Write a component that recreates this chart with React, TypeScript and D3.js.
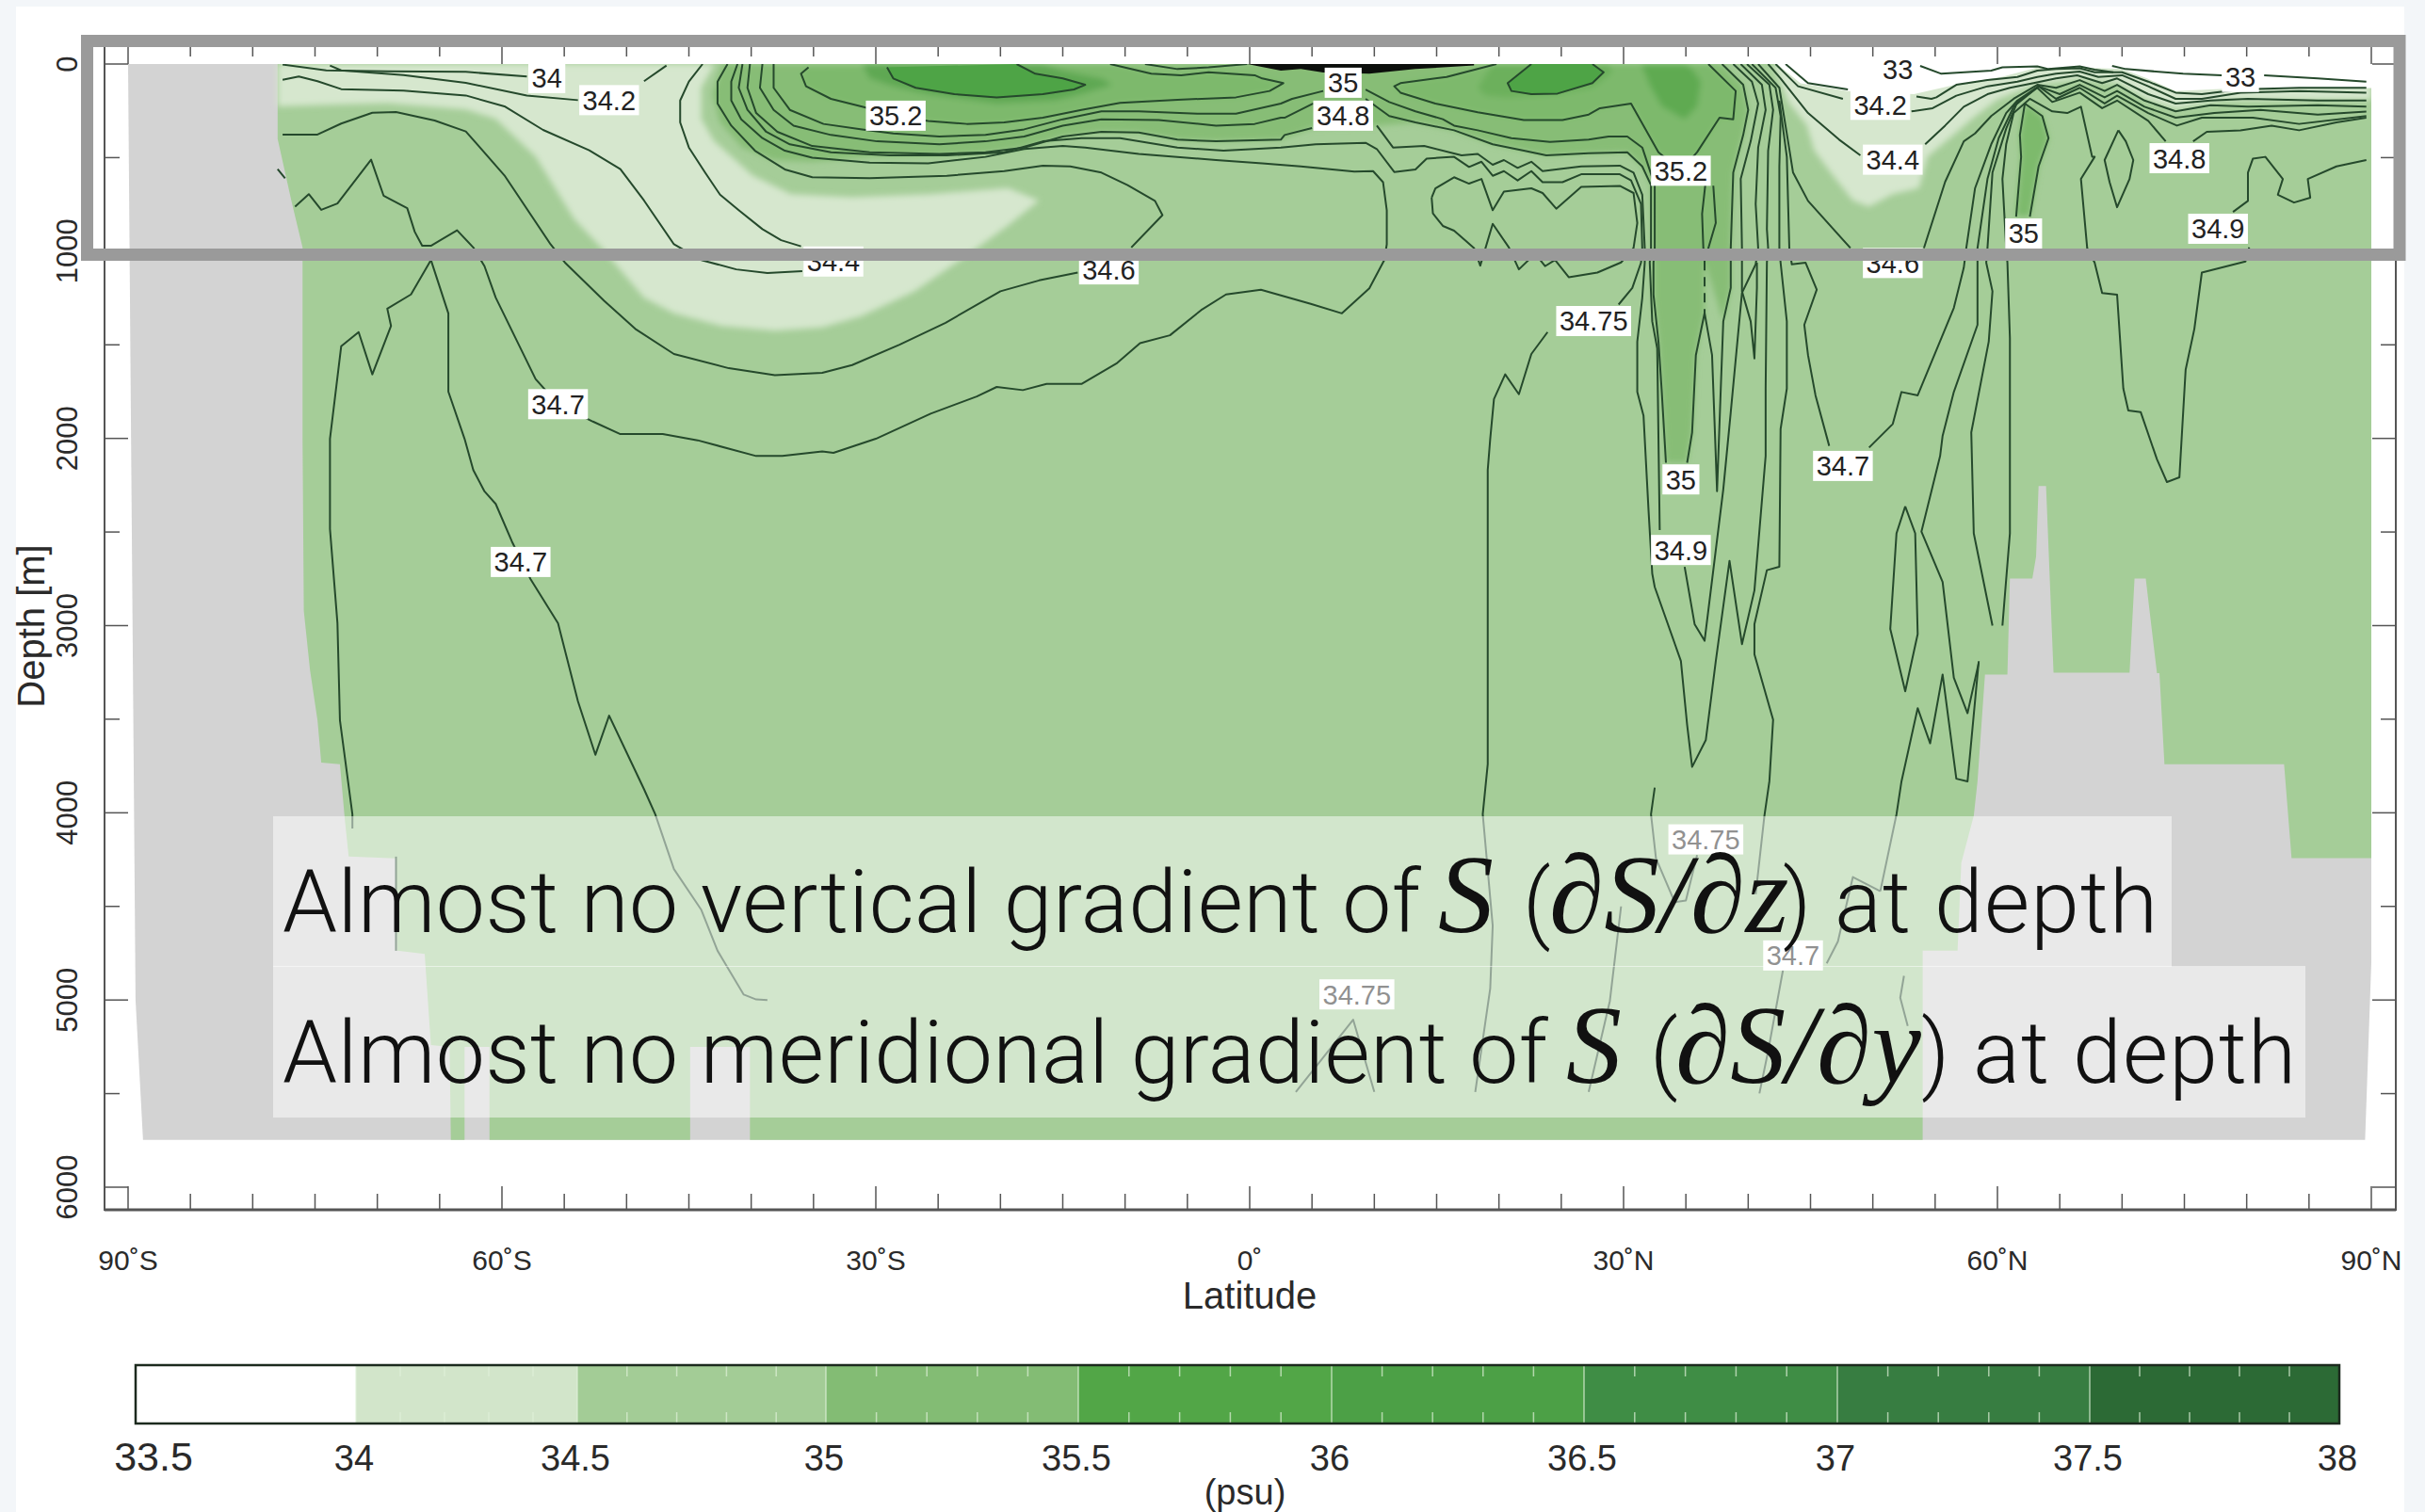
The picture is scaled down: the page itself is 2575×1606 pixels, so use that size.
import React from "react";
import * as d3 from "d3";

type P = [number, number];

// ---- axis ticks and labels ----
const latMinorTicks = d3.range(-90, 91, 5);
const latMajorTicks = [-90, -60, -30, 0, 30, 60, 90];
const latTickLabels = ["90˚S", "60˚S", "30˚S", "0˚", "30˚N", "60˚N", "90˚N"];
const depthMinorTicks = d3.range(0, 6001, 500);
const depthMajorTicks = [0, 1000, 2000, 3000, 4000, 5000, 6000];

// ---- colour bar ----
const cbBreaks = [33.5, 34, 34.5, 35, 35.5, 36, 36.5, 37, 37.5, 38];
const cbColors = ["#ffffff", "#d2e5ca", "#a3cc96", "#83bc74", "#52a647", "#4ca046", "#3f8d45", "#377d41", "#2c6a35"];
const cbLabels = ["33.5", "34", "34.5", "35", "35.5", "36", "36.5", "37", "37.5", "38"];

// ---- filled regions: [latitude, depth] ----
const landOutline: P[] = [[-90, 0], [90, 0], [90, 4800], [89.5, 5747], [-88.8, 5747], [-89.4, 5000]];
const oceanOutline: P[] = [[-78, 0], [-78, 400], [-76.9, 729], [-76, 980], [-76, 2000], [-75.9, 2921], [-75.4, 3238], [-74.8, 3506], [-74.5, 3732], [-73, 3740], [-72.6, 4041], [-72.3, 4234], [-68.5, 4243], [-68.4, 4737], [-66.2, 4754], [-65.7, 5240], [-64.2, 5250], [-64.1, 5747], [-63, 5747], [-63, 5250], [-61, 5250], [-61, 5747], [-44.9, 5747], [-44.9, 5250], [-40.1, 5250], [-40.1, 5747], [54, 5747], [54, 4737], [56.8, 4737], [57.1, 4268], [58.1, 4016], [58.4, 3832], [59, 3261], [60.8, 3261], [61, 2749], [62.8, 2749], [63.1, 2632], [63.3, 2255], [63.9, 2255], [64.5, 3252], [70.6, 3252], [71, 2749], [71.9, 2749], [72.8, 3254], [73, 3254], [73.4, 3740], [83, 3740], [83.6, 4242], [90, 4242], [90, 0]];
const freshWedgeSouth: P[] = [[-78, 0], [-78, 226], [-74.1, 218], [-69.2, 209], [-62.9, 243], [-60.5, 293], [-57.3, 494], [-54.2, 829], [-51.8, 997], [-48.6, 1248], [-46.2, 1332], [-42.4, 1399], [-38.1, 1424], [-34.3, 1407], [-31.2, 1348], [-26.9, 1214], [-22.5, 1013], [-19.4, 863], [-16.9, 729], [-19.4, 662], [-25.6, 695], [-31.9, 712], [-36.8, 695], [-39.9, 595], [-43, 410], [-44, 293], [-44, 126], [-43, 8], [-43, 0]];
const freshWedgeNorth: P[] = [[42, 0], [43.2, 200], [44.7, 327], [45.3, 461], [46.6, 578], [48.4, 729], [49.7, 762], [51.6, 695], [53.7, 662], [54.4, 494], [56.5, 377], [58, 290], [60, 190], [63, 110], [66.6, 80], [69.6, 100], [72, 190], [74.3, 240], [78, 195], [90, 190], [90, 0]];
const freshSurfaceNorth: P[] = [[42.3, 0], [44.2, 103], [48, 145], [53.3, 161], [56.7, 110], [60.4, 68], [63.2, 19], [64.7, 27], [66.6, 19], [70, 27], [72, 77], [74.3, 145], [79.5, 128], [89.6, 128], [90, 128], [90, 0]];
const salineBand: P[] = [[-42.3, 0], [-43.1, 161], [-42.5, 312], [-40.7, 446], [-38.2, 513], [-35.1, 522], [-30.5, 496], [-24.9, 488], [-21.2, 476], [-18.1, 446], [-15, 387], [-11.9, 362], [-8.9, 366], [-5.8, 404], [-2.7, 413], [2.5, 404], [5, 342], [10.2, 329], [13.3, 312], [16.4, 354], [19.5, 429], [22, 463], [23.8, 488], [27.2, 476], [30.3, 471], [31.5, 547], [32.2, 647], [32.4, 1061], [32.4, 1232], [32.8, 1483], [33.05, 1734], [33.4, 2130], [35.1, 2130], [35.5, 1968], [35.8, 1555], [36.5, 1330], [36.5, 1052], [38, 1375], [38.6, 1196], [38.6, 983], [38.8, 580], [39.6, 379], [40, 245], [39.6, 111], [37.9, 0]];
const haloSouth: P[] = [[-31.1, 0], [-30.5, 77], [-28.6, 119], [-25.8, 161], [-20.3, 211], [-15.6, 195], [-13.5, 161], [-11, 111], [-11.9, 77], [-15, 35], [-16.6, 0]];
const haloNorth: P[] = [[19.5, 0], [18.3, 127], [18.9, 169], [20.7, 178], [24.7, 161], [27.5, 127], [29.1, 44], [28.8, 0]];
const medOutflowCore: P[] = [[31.4, 0], [32.2, 127], [33.1, 228], [34.9, 295], [35.9, 228], [36.2, 94], [35.5, 27], [34.9, 0]];
const surfaceBlack: P[] = [[-0.2, 0], [2.5, 35], [4.1, 27], [5.9, 45], [9.6, 52], [13.3, 27], [18, 8], [18, 0]];

// ---- contour lines: [latitude, depth] ----
const c34A: P[] = [[-77.6, 3], [-74.1, 34], [-69.2, 39], [-62.9, 42], [-58, 67]];
const c342A: P[] = [[-73.8, 8], [-72.9, 34], [-67.9, 59], [-62.9, 101], [-58, 168], [-53.9, 193]];
const c342B: P[] = [[-48.6, 92], [-46.8, 8]];
const c344A: P[] = [[-43.9, 0], [-45, 94], [-45.7, 195], [-45.7, 312], [-45, 446], [-43.7, 580], [-42.5, 698], [-41, 781], [-39.1, 882], [-37.6, 941], [-36, 974]];
const c344B: P[] = [[-77.6, 84], [-76.3, 67], [-74.8, 92], [-72.9, 134], [-67.9, 142], [-62.9, 168], [-59.8, 226], [-56.7, 352], [-53, 461], [-50.5, 561], [-48.6, 729], [-46.2, 963], [-44, 1047], [-41.2, 1097], [-38.7, 1117], [-35.9, 1107]];
const c346A: P[] = [[-77.6, 377], [-74.8, 377], [-72.9, 318], [-70.4, 260], [-68.5, 256], [-65.4, 302], [-62.9, 360], [-59.8, 595], [-56.1, 963], [-54.9, 1064], [-51.8, 1265], [-49.3, 1415], [-46.2, 1549], [-41.8, 1625], [-38.1, 1662], [-34.3, 1650], [-31.9, 1608], [-28.1, 1499], [-24.4, 1382], [-20, 1214], [-16.9, 1156], [-13.8, 1114]];
const c346B: P[] = [[-9.5, 980], [-7, 807], [-7.6, 731], [-9.8, 647], [-11.9, 580], [-14.4, 547], [-16.6, 543], [-19.7, 572], [-24.3, 597], [-30.5, 610], [-35.1, 605], [-37.3, 563], [-39.7, 463], [-41.6, 329], [-42.7, 211], [-42.7, 94], [-41.9, 0]];
const c347Stub: P[] = [[-78, 561], [-77.4, 611]];
const c347A: P[] = [[-76.6, 762], [-75.5, 695], [-74.5, 779], [-73.2, 745], [-70.5, 511], [-69.5, 703], [-67.6, 770], [-67, 896], [-66.4, 971], [-65.7, 971], [-63.6, 888], [-62.3, 980], [-61.4, 1080], [-60.5, 1248], [-57.3, 1683], [-55.5, 1817], [-52.7, 1910], [-50.5, 1977], [-47.1, 1977], [-44.3, 2010], [-39.6, 2094], [-37.5, 2094], [-34.3, 2069], [-33.4, 2077], [-30, 2002], [-25.6, 1868], [-21.9, 1776], [-20.3, 1725], [-18.2, 1742], [-16.3, 1709], [-13.5, 1709], [-10.7, 1600], [-8.8, 1491], [-6.4, 1449], [-3.9, 1315], [-1.9, 1231], [0.9, 1206], [4.9, 1281], [7.4, 1332], [9.6, 1198], [10.8, 1047], [11, 963], [11, 781], [10.7, 631], [9.9, 572], [8.4, 575], [4.1, 547], [1, 530], [-2.7, 513], [-8.9, 480], [-13.2, 446], [-15, 438], [-18.1, 454], [-21.2, 496], [-25.8, 530], [-30.5, 527], [-35.1, 500], [-37.3, 463], [-39.1, 396], [-40.8, 295], [-41.6, 195], [-41.6, 94], [-41.1, 0]];
const c347DeepW: P[] = [[-65.7, 1047], [-64.3, 1332], [-64.3, 1750], [-63, 2002], [-62.3, 2169], [-61.4, 2283], [-60.5, 2350], [-59.2, 2551], [-57.7, 2752], [-55.5, 2987], [-53.9, 3405], [-52.5, 3690], [-51.4, 3481], [-48.6, 3874], [-47.7, 4008], [-46.2, 4301], [-44, 4519], [-42.7, 4737], [-40.6, 4971], [-39.6, 4997], [-38.7, 5000]];
const c347DeepW2: P[] = [[-65.7, 1047], [-67.3, 1231], [-69.2, 1307], [-68.9, 1399], [-70.4, 1658], [-71.5, 1432], [-72.9, 1508], [-73.8, 2002], [-73.8, 2484], [-73.2, 2987], [-73, 3506], [-72, 4008], [-72, 4084]];
const c347DeepW3: P[] = [[-68.5, 4234], [-68.5, 4737]];
const c3475: P[] = [[-40.7, 0], [-41, 127], [-40.3, 245], [-38.8, 362], [-36.9, 429], [-33.6, 471], [-28.9, 488], [-24.3, 488], [-19.7, 471], [-16.6, 413], [-13.5, 396], [-10.4, 396], [-5.8, 446], [-2.1, 463], [2.5, 446], [5.3, 429], [9.3, 421], [10.2, 454], [11.6, 577], [13.3, 563], [14.2, 505], [16.4, 496], [17.6, 550], [18.6, 522], [19.5, 597], [20.4, 572], [21.5, 622], [22.6, 572], [23.5, 631], [25.1, 631], [26.6, 589], [29.7, 589], [30.6, 622], [31.4, 748], [31.5, 983], [31.4, 1061], [30.7, 1196], [29.6, 1285]];
const c3475Deep: P[] = [[23.9, 1432], [22.6, 1549], [21.6, 1764], [20.5, 1658], [19.6, 1790], [19.3, 2002], [19.1, 2169], [19.1, 3740], [18.7, 4008], [19.5, 4603], [19.3, 4938], [18.1, 5491]];
const c348: P[] = [[-40.1, 0], [-40.3, 127], [-39.6, 262], [-37.9, 362], [-35.1, 438], [-30.5, 471], [-24.9, 480], [-21.2, 471], [-18.1, 446], [-15, 387], [-11.9, 362], [-8.9, 366], [-5.8, 404], [-2.7, 413], [2.5, 404], [2.8, 379], [5, 342]];
const c348Deep: P[] = [[10.2, 329], [11.5, 446], [14, 438], [17, 488], [18.3, 480], [19.5, 538], [20.4, 513], [21.5, 555], [22.6, 522], [23.5, 572], [26.6, 547], [29.7, 543], [30.8, 580], [31.5, 698], [31.7, 983], [31.7, 1061], [31.5, 1249], [31.1, 1483], [31.1, 1752], [31.6, 1878], [32, 2381], [32.3, 2722], [32.5, 2794], [34.6, 3189], [35.1, 3530], [35.5, 3755], [36.6, 3611], [37.4, 3189], [38.5, 2654], [39.5, 3099], [40.5, 2812], [41.4, 2094], [41.4, 1734], [41.5, 1061], [41.6, 983], [41.5, 882], [41.6, 463], [42, 245], [41.7, 111], [39.9, 0]];
const c349: P[] = [[-39.1, 0], [-39.3, 127], [-38.2, 245], [-36.6, 329], [-33.6, 379], [-29.9, 413], [-24.9, 429], [-21.2, 413], [-18.1, 387], [-15, 329], [-11.9, 295], [-7.3, 299], [-2.7, 329], [0.4, 320], [2.5, 287], [2.8, 287], [5.1, 211]];
const c349Deep: P[] = [[9.3, 186], [11.2, 278], [13.3, 312], [16.4, 354], [19.5, 429], [22, 463], [23.8, 488], [27.2, 476], [30.3, 471], [31.5, 547], [32.2, 647], [32.2, 983], [32.1, 1061], [32.3, 1375], [32.7, 1519], [32.9, 2489]];
const c349Tail: P[] = [[34.9, 2686], [35.7, 2992], [36.5, 3081], [38, 2273], [38.6, 1860], [39.5, 1223], [40.6, 1070], [40.8, 983], [40.6, 748], [40.8, 446], [41.4, 245], [41.1, 111], [39.4, 0]];
const c35: P[] = [[-38.2, 0], [-38.2, 127], [-36.9, 245], [-34.2, 320], [-31.1, 349], [-28.6, 371], [-24.9, 387], [-21.2, 379], [-18.1, 349], [-15, 295], [-11.9, 253], [-8.9, 253], [-4.2, 265], [-1.1, 265], [2.5, 211], [3.4, 186], [5.9, 144]];
const c35Deep: P[] = [[9.3, 136], [11.2, 203], [13.3, 253], [15.5, 295], [16.4, 329], [18.3, 354], [21, 396], [24.1, 416], [27.2, 404], [28.8, 387], [30.3, 387], [31.5, 446], [32.5, 647], [32.5, 983], [32.4, 1061], [32.4, 1232], [32.8, 1483], [33.05, 1734], [33.4, 2130]];
const c35Tail: P[] = [[35.1, 2130], [35.5, 1968], [35.8, 1555], [36.5, 1330], [37.1, 1555], [37.3, 1914], [37.5, 2282], [37.8, 1734], [38, 1375], [38.6, 1196], [38.6, 1061], [38.6, 983], [38.8, 580], [39.6, 379], [40, 245], [39.6, 111], [37.9, 0]];
const c352South: P[] = [[-35.4, 18], [-36, 52], [-35.6, 119], [-33.6, 186], [-31.1, 228], [-28.4, 276], [-25.8, 304], [-22.7, 320], [-19.7, 312], [-16.6, 287], [-13.5, 245], [-10.4, 208], [-5.8, 191], [-1.1, 178], [1.6, 144], [2.7, 102], [1, 77], [0.4, 60], [-3.3, 44], [-5.5, 60], [-7.9, 52], [-11.2, 0]];
const c352North: P[] = [[19.8, 0], [15.8, 69], [12.1, 102], [11.6, 119], [12.1, 153], [14.9, 211], [18.3, 258], [22, 299], [25.1, 299], [27.2, 270], [28.1, 236], [30.6, 211], [32.8, 471], [34.6, 570], [35.9, 471], [37.7, 287], [38.8, 295], [39, 144], [36.8, 0]];
const c354South: P[] = [[-29.1, 18], [-28.6, 77], [-26.8, 127], [-23.7, 161], [-20.3, 178], [-16.6, 161], [-14.1, 136], [-13.2, 111], [-15, 77], [-17.2, 52], [-18.7, 0]];
const c354North: P[] = [[22.6, 0], [20.7, 102], [21, 144], [22.6, 161], [24.7, 158], [27.5, 102], [28.4, 44], [27.5, 0]];
const cSurfaceThin: P[] = [[-8.4, 0], [-5.8, 27], [-3.3, 18], [-0.2, 0]];
const c3475Loop: P[] = [[14.6, 714], [14.9, 664], [16.4, 605], [17.6, 639], [18.6, 614], [19.5, 781], [20.4, 681], [22.6, 664], [23.5, 689], [24.6, 773], [26.6, 656], [29.7, 651], [30.8, 689], [31.1, 849], [30.8, 983], [29.8, 1060], [27.9, 1114], [25.6, 1139], [24.5, 1047], [23.7, 1080], [22.9, 1013], [21.6, 1097], [20.8, 980], [19.5, 854], [18.5, 1077], [18, 983], [16.4, 890], [15.5, 865], [14.7, 798], [14.6, 714]];
const cLens: P[] = [[36.6, 620], [36.3, 800], [36.4, 983], [36.5, 1052], [37.4, 849], [37.2, 650]];
const cMedAxis: P[] = [[36.5, 1052], [36.5, 1330]];
const cSliver: P[] = [[38.8, 0], [40.3, 94], [40.8, 211], [40.2, 413], [39.4, 614], [39.5, 983], [39.5, 1214], [40.2, 1375], [40.5, 1573], [40.7, 1196], [40.7, 1061]];
const cOutflowEast: P[] = [[40.3, 0], [42.2, 127], [42.6, 278], [42.5, 547], [42.5, 983], [42.6, 1061], [43.1, 1375], [43.1, 1734], [42.6, 1950], [42.5, 2686], [41.5, 2704], [40.5, 2992], [40.5, 3153], [42, 3503], [41.7, 3832], [41.3, 4017], [40.6, 4435]];
const cOutflowEast2: P[] = [[42.8, 4837], [41.6, 5273], [40.9, 5499]];
const c347North: P[] = [[42.5, 195], [43.1, 496], [43.3, 983], [43.5, 1070], [44.6, 1061], [45.5, 1205], [44.5, 1393], [44.8, 1555], [45.4, 1770], [46.5, 2040]];
const c347NorthB: P[] = [[49.7, 2049], [51.6, 1923], [52.3, 1752], [53.6, 1770], [56.5, 1303], [57.3, 1088], [57.5, 983], [58.2, 664], [59.5, 429], [60.7, 262], [61.6, 195], [63.3, 119], [65, 161], [66.6, 111], [68.6, 178], [69.6, 144], [71.8, 228], [74.3, 287], [77.4, 262], [81.1, 245], [85.7, 270], [89.6, 254]];
const c347Zig: P[] = [[50.6, 4419], [51.9, 4008], [52.3, 3832], [53.6, 3441], [54.6, 3629], [55.6, 3261], [56.7, 3818], [57.6, 3832], [58.5, 3190]];
const c347Zig2: P[] = [[46.3, 4804], [47.2, 4687], [48.4, 4343], [50.6, 4419]];
const c33A: P[] = [[53.8, 10], [55.5, 52], [59.5, 35], [60.4, 18], [63.2, 13], [64.1, 27], [66.6, 13], [67.8, 30], [69.3, 44]];
const c33B: P[] = [[69.2, 10], [70.3, 27], [74.9, 52], [78, 60]];
const c33C: P[] = [[81.4, 60], [85.7, 77], [89.6, 94]];
const cT1West: P[] = [[43, 0], [44.8, 102], [48, 136]];
const cT1East: P[] = [[53.5, 174], [54.7, 186], [55.1, 178], [56.7, 111], [59.2, 86], [61.6, 69], [63.2, 35], [64.7, 27], [66.6, 23], [67.8, 44], [70, 44], [72.1, 94], [74.3, 153], [76.4, 161], [79.5, 136], [84.2, 127], [89.6, 127]];
const cT2West: P[] = [[42.2, 0], [44, 119], [47.6, 186]];
const cT2East: P[] = [[53.1, 253], [54.8, 236], [56.7, 169], [59.2, 119], [61.6, 94], [63.2, 69], [64.7, 52], [66.6, 40], [68.1, 69], [70, 60], [72.1, 119], [74.3, 186], [76.4, 186], [79.5, 153], [84.2, 144], [89.6, 153]];
const cT3West: P[] = [[41.6, 0], [42.6, 77], [44.8, 262], [47.3, 404], [49, 488]];
const cT3East: P[] = [[54.2, 429], [55.8, 329], [57.3, 228], [59.2, 161], [61, 127], [62.9, 102], [64.7, 77], [66.4, 60], [68.4, 102], [69.6, 77], [72.1, 161], [74.3, 211], [77.1, 195], [80.1, 186], [85.7, 195], [89.6, 195]];
const cT4West: P[] = [[40.8, 0], [42.5, 127], [43.2, 413], [43.6, 580], [44.8, 731], [48.2, 983]];
const cT4East: P[] = [[54.1, 983], [55.8, 630], [57.3, 413], [58.2, 371], [59.5, 278], [61.3, 186], [63.2, 111], [64.7, 127], [66.6, 86], [68.6, 144], [69.6, 111], [71.8, 195], [74.3, 253], [77.1, 220], [80.1, 228], [85.7, 220], [89.6, 228]];
const cT6: P[] = [[58.5, 3198], [57.6, 3468], [56.5, 3279], [55.6, 2767], [53.9, 2498], [55.4, 2094], [55.6, 1986], [56.5, 1752], [58.4, 1393], [58.4, 1061], [58.4, 983], [59.2, 614], [60.1, 396], [61.3, 228], [63.3, 119], [64.7, 186], [66.6, 127], [68.6, 211], [69.6, 169], [72.1, 262], [74.4, 329], [76.4, 287], [80.5, 287], [84.2, 320], [89.6, 278]];
const cT7West: P[] = [[59.6, 3000], [58.1, 2507], [57.9, 1968], [59.3, 1483], [59.6, 1214], [59.1, 1061], [59.2, 983], [59.6, 580], [60.7, 345], [61.6, 203], [63.2, 127], [64.4, 203], [66.6, 153], [68.4, 236], [69.6, 195], [72.1, 304], [73.5, 413]];
const cT7East: P[] = [[75.7, 413], [76.8, 362], [79.5, 354], [82, 329], [84.2, 354], [87.2, 312], [89.6, 287]];
const cT8West: P[] = [[60.4, 3000], [61, 2507], [61, 1465], [60.8, 1061], [60.7, 983], [60.4, 614], [60.7, 429], [61.3, 262], [62.6, 186], [64.4, 253], [65.6, 262], [66.7, 228], [67.6, 496], [67.8, 496], [66.7, 614], [67.2, 983], [67.8, 1061], [68.4, 1223], [69.6, 1232], [70.1, 1734], [70.5, 1851], [71.5, 1860], [72.8, 2112], [73.6, 2233], [74.6, 2208], [75.1, 1633], [75.8, 1415], [76.4, 1114], [79.9, 1055], [80.2, 980]];
const c349North: P[] = [[78.9, 790], [80.1, 731], [80.1, 580], [80.5, 505], [81.5, 496], [82.9, 614], [82.5, 698], [83.8, 740], [85.1, 714], [84.9, 614], [87.2, 547], [89.6, 513]];
const cTongue60N: P[] = [[61.5, 815], [61.9, 496], [61.8, 379], [62.2, 211], [63.6, 278], [64.1, 396], [63.3, 547], [62.6, 815]];
const cOval70N: P[] = [[69.7, 354], [68.6, 513], [69, 631], [69.6, 765], [70.6, 614], [70.9, 513], [70.3, 413], [69.7, 354]];
const cLoop52N: P[] = [[52.6, 2363], [51.9, 2507], [51.4, 3018], [52.6, 3351], [53.6, 3045], [53.4, 2507], [52.6, 2363]];
const cDeepLens: P[] = [[32.5, 3866], [32.2, 4008], [32.6, 4243], [34.1, 4477], [35, 4469], [35.9, 4226]];
const cDeepA: P[] = [[29.8, 4500], [28.9, 5005], [27.2, 5491]];
const cDeepB: P[] = [[3.7, 5491], [8.3, 5105], [10, 5491]];
const cDeepC: P[] = [[52.5, 4871], [52.2, 4988], [52.8, 5139]];

const contourLines: P[][] = [c34A, c342A, c342B, c344A, c344B, c346A, c346B, c347Stub, c347A, c347DeepW, c347DeepW2, c347DeepW3, c3475, c3475Deep, c348, c348Deep, c349, c349Deep, c349Tail, c35, c35Deep, c35Tail, c352South, c352North, c354South, c354North, cSurfaceThin, c3475Loop, cLens, cSliver, cOutflowEast, cOutflowEast2, c347North, c347NorthB, c347Zig, c347Zig2, c33A, c33B, c33C, cT1West, cT1East, cT2West, cT2East, cT3West, cT3East, cT4West, cT4East, cT6, cT7West, cT7East, cT8West, c349North, cTongue60N, cOval70N, cLoop52N, cDeepLens, cDeepA, cDeepB, cDeepC];

// ---- inline contour labels: text, latitude, depth ----
const contourLabels: [string, number, number][] = [
  ["34", -56.4, 75], ["34.2", -51.4, 193], ["35.2", -28.4, 276], ["34.4", -33.4, 1055], ["34.6", -11.3, 1097],
  ["34.7", -55.5, 1817], ["34.7", -58.5, 2660], ["35", 7.5, 100], ["34.8", 7.5, 276], ["35.2", 34.6, 570],
  ["34.75", 27.6, 1373], ["33", 52, 27], ["34.2", 50.6, 218], ["34.4", 51.6, 511], ["34.6", 51.6, 1063],
  ["33", 79.5, 69], ["34.8", 74.6, 503], ["34.9", 77.7, 880], ["35", 62.1, 905], ["35", 34.6, 2219],
  ["34.9", 34.6, 2596], ["34.7", 47.6, 2147], ["34.75", 36.6, 4142], ["34.75", 8.6, 4970], ["34.7", 43.6, 4762],
];

const x = d3.scaleLinear().domain([-90, 90]).range([136, 2518]);
const y = d3.scaleLinear().domain([0, 6000]).range([68, 1261]);
const cbX = d3.scaleLinear().domain(cbBreaks).range([144, 378, 613, 877, 1145, 1414, 1682, 1951, 2219, 2484]);
const path = d3.line<P>().x((d) => x(d[0])).y((d) => y(d[1])).curve(d3.curveLinear);
const area = (pts: P[]) => (path(pts) ?? "") + "Z";

const SANS = "'Liberation Sans', Arial, sans-serif";
const LIGHT = "Roboto, 'Liberation Sans', sans-serif";
const SERIF = "'Liberation Serif', serif";
const INK = "#2a2a2a";
const LINE = "#25492c";

function labelWidth(t: string, size: number) {
  return d3.sum(t.split(""), (c) => (c === "." ? 0.278 : 0.556)) * size;
}

function Sentence({ y: yy, pre, sym, xs }: { y: number; pre: string; sym: string; xs: number[] }) {
  return (
    <text y={yy} fontFamily={LIGHT} fontWeight={300} fontSize={93} fill="#111">
      <tspan x={300} letterSpacing={0.45}>{pre}</tspan>
      <tspan x={xs[0]} fontFamily={SERIF} fontStyle="italic" fontSize={118}>S</tspan>
      <tspan x={xs[1]}>(</tspan>
      <tspan x={xs[2]} fontFamily={SERIF} fontStyle="italic" fontSize={118}>{"∂S/∂" + sym}</tspan>
      <tspan x={xs[3]}>)</tspan>
      <tspan x={xs[4]} letterSpacing={1.2}>at depth</tspan>
    </text>
  );
}

export default function App() {
  const left = 111, right = 2544, top = 48, bottom = 1285;
  return (
    <svg width={2575} height={1606} viewBox="0 0 2575 1606" style={{ position: "absolute", left: 0, top: 0, display: "block" }}>
      <defs>
        <filter id="soft" x="-5%" y="-5%" width="110%" height="110%">
          <feGaussianBlur stdDeviation="3" />
        </filter>
        <clipPath id="plotClip">
          <rect x={x(-90)} y={y(0)} width={x(90) - x(-90)} height={y(6000) - y(0)} />
        </clipPath>
      </defs>
      <rect width={2575} height={1606} fill="#f3f6f9" />
      <rect x={17} y={7} width={2536} height={1599} fill="#ffffff" />

      <g clipPath="url(#plotClip)">
        <path d={area(landOutline)} fill="#d3d3d3" />
        <path d={area(oceanOutline)} fill="#a5cd98" />
        <g filter="url(#soft)">
          <path d={area(freshWedgeSouth)} fill="#d6e7ce" />
          <path d={area(salineBand)} fill="#87bd76" />
          <path d={area(c352South)} fill="#7db96c" />
          <path d={area(c352North)} fill="#7db96c" />
          <path d={area(haloSouth)} fill="#5fa853" />
          <path d={area(haloNorth)} fill="#6cb05c" />
          <path d={area(medOutflowCore)} fill="#5eaa51" />
          <path d={area(cTongue60N)} fill="#7dba6c" />
          <path d={area(freshWedgeNorth)} fill="#d6e7ce" />
        </g>
        <path d={area(freshSurfaceNorth)} fill="#ffffff" />
        <path d={area(c354South)} fill="#4ea446" />
        <path d={area(c354North)} fill="#4ea446" />
        <path d={area(surfaceBlack)} fill="#0c0f0c" />
        <g fill="none" stroke={LINE} strokeWidth={2} strokeLinejoin="round">
          {contourLines.map((c, i) => <path key={i} d={path(c) ?? ""} />)}
          <path d={path(cMedAxis) ?? ""} strokeDasharray="10 7" />
        </g>
      </g>

      {contourLabels.map(([t, la, de], i) => {
        const w = labelWidth(t, 29) + 7;
        return (
          <g key={i}>
            <rect x={x(la) - w / 2} y={y(de) - 16} width={w} height={32} fill="#ffffff" />
            <text x={x(la)} y={y(de) + 10.5} textAnchor="middle" fontFamily={SANS} fontSize={29} fill="#222">{t}</text>
          </g>
        );
      })}

      {/* axis frame and ticks */}
      <g stroke="#555" fill="none">
        <path d={`M${left},${top}V${bottom}H${right}V${top}H${left}Z`} strokeWidth={2} />
        <line x1={left} x2={right} y1={bottom} y2={bottom} strokeWidth={3} />
        {latMinorTicks.map((t) => {
          const len = latMajorTicks.includes(t) ? 25 : 17;
          return (
            <g key={t} strokeWidth={1.5}>
              <line x1={x(t)} x2={x(t)} y1={bottom} y2={bottom - len} />
              <line x1={x(t)} x2={x(t)} y1={top} y2={top + (latMajorTicks.includes(t) ? 20 : 12)} />
            </g>
          );
        })}
        {depthMinorTicks.map((t) => {
          const len = depthMajorTicks.includes(t) ? 25 : 16;
          return (
            <g key={t} strokeWidth={1.5}>
              <line x1={left} x2={left + len} y1={y(t)} y2={y(t)} />
              <line x1={right} x2={right - len} y1={y(t)} y2={y(t)} />
            </g>
          );
        })}
      </g>
      <g fontFamily={SANS} fill={INK}>
        {latMajorTicks.map((t, i) => (
          <text key={t} x={x(t)} y={1349} fontSize={30} textAnchor="middle">{latTickLabels[i]}</text>
        ))}
        {depthMajorTicks.map((t) => (
          <text key={t} transform={`translate(82,${y(t)}) rotate(-90)`} fontSize={31} textAnchor="middle">{t}</text>
        ))}
        <text x={1327} y={1390} fontSize={40} textAnchor="middle">Latitude</text>
        <text transform="translate(47,665) rotate(-90)" fontSize={40} textAnchor="middle">Depth [m]</text>
      </g>

      {/* colour bar */}
      {cbColors.map((c, i) => (
        <rect key={i} x={cbX(cbBreaks[i])} y={1450} width={cbX(cbBreaks[i + 1]) - cbX(cbBreaks[i])} height={62} fill={c} />
      ))}
      <g stroke="#dff0d8" strokeWidth={1.5} opacity={0.7}>
        {cbBreaks.slice(1, -1).map((v, i) => {
          const a = cbX(v), b = cbX(cbBreaks[i + 2]);
          const inner = d3.range(1, 5).map((k) => a + ((b - a) * k) / 5);
          return (
            <g key={v}>
              <line x1={a} x2={a} y1={1451} y2={1511} />
              {inner.map((p) => (
                <g key={p}>
                  <line x1={p} x2={p} y1={1451} y2={1462} />
                  <line x1={p} x2={p} y1={1500} y2={1511} />
                </g>
              ))}
            </g>
          );
        })}
      </g>
      <rect x={144} y={1450} width={2340} height={62} fill="none" stroke="#1c2a1e" strokeWidth={2.5} />
      <g fontFamily={SANS} fill={INK} fontSize={38} textAnchor="middle">
        {cbLabels.map((l, i) => (
          <text key={l} x={cbX(cbBreaks[i]) + (i === 0 ? 19 : -2)} y={1562} fontSize={i === 0 ? 43 : 38}>{l}</text>
        ))}
        <text x={1322} y={1598}>(psu)</text>
      </g>

      {/* annotation overlays */}
      <rect x={290} y={867} width={2016} height={160} fill="#ffffff" fillOpacity={0.5} />
      <rect x={290} y={1026} width={2158} height={161} fill="#ffffff" fillOpacity={0.5} />
      <Sentence y={990} pre="Almost no vertical gradient of" sym="z" xs={[1527, 1617, 1645, 1893, 1948]} />
      <Sentence y={1150} pre="Almost no meridional gradient of" sym="y" xs={[1663, 1752, 1779, 2040, 2095]} />
      <rect x={92.5} y={43.5} width={2455.5} height={227} fill="none" stroke="#9a9a9a" strokeWidth={13} />
    </svg>
  );
}
